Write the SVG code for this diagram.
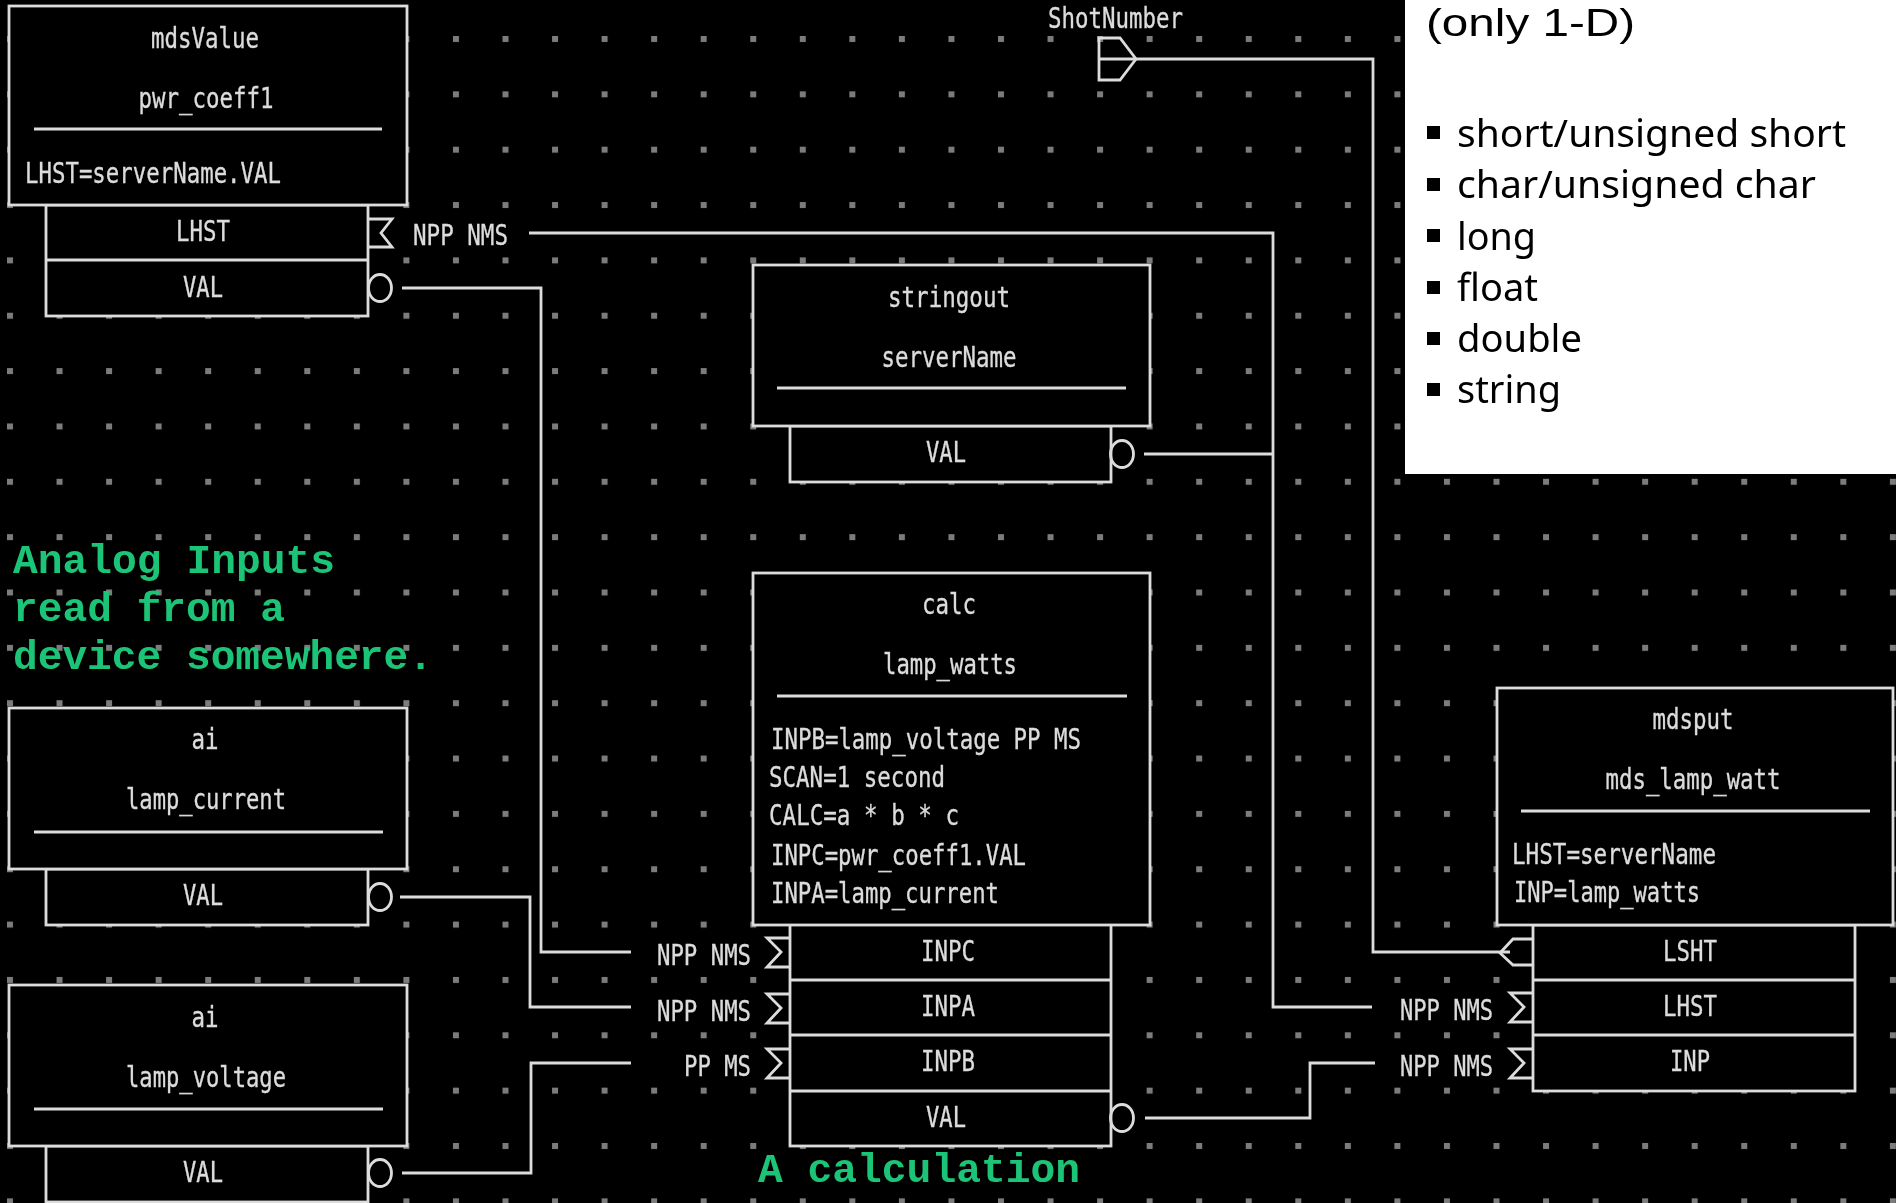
<svg xmlns="http://www.w3.org/2000/svg" width="1896" height="1203" viewBox="0 0 1896 1203">
<style>
.box{fill:#000;stroke:#dcdcdc;stroke-width:2.8}
.ln{fill:none;stroke:#dcdcdc;stroke-width:2.8}
.w{fill:none;stroke:#dcdcdc;stroke-width:2.8}
.m{font-family:"DejaVu Sans Mono","Liberation Mono",monospace;font-size:28px;fill:#dcdcdc;stroke:#dcdcdc;stroke-width:.35}
.c{text-anchor:middle}
.g{font-family:"Liberation Mono",monospace;font-size:40px;font-weight:bold;fill:#1fc477}
.p{font-family:"Noto Sans","Open Sans",sans-serif;font-size:38px;fill:#000}
.h{font-family:"Liberation Sans",sans-serif;font-size:38px;fill:#000}
</style>
<defs>
<pattern id="grid" width="49.55" height="55.35" patternUnits="userSpaceOnUse" patternTransform="translate(7 36)">
<rect x="0" y="0" width="6" height="6" fill="#7c7c7c"/>
</pattern>
<filter id="soft" x="0" y="0" width="100%" height="100%"><feGaussianBlur stdDeviation="0.7"/></filter>
<path id="sig" class="ln" d="M23,-14 L0,-14 L14,0 L0,15 L23,15"/>
<ellipse id="ring" class="ln" cx="12" cy="0" rx="11.5" ry="13.5"/>
</defs>
<rect width="1896" height="1203" fill="#000"/>
<g filter="url(#soft)">
<g id="grid-dots"><rect width="1896" height="1203" fill="url(#grid)"/></g>

<g id="connectors">
<path class="w" d="M402,288 H541 V952 H631"/>
<path class="w" d="M529,233 H1273 V1007 H1372"/>
<path class="w" d="M1144,454 H1273"/>
<path class="w" d="M1098,59 H1373 V952 H1510"/>
<path class="w" d="M400,897 H530 V1007 H631"/>
<path class="w" d="M402,1173 H531 V1063 H631"/>
<path class="w" d="M1145,1118 H1310 V1063 H1375"/>
</g>

<g id="mdsValue">
<rect class="box" x="46" y="205" width="322" height="111"/>
<path class="ln" d="M46,260 H368"/>
<rect class="box" x="9" y="6" width="398" height="199"/>
<path class="ln" d="M34,129 H382"/>
<text class="m c" x="205" y="48" textLength="108" lengthAdjust="spacingAndGlyphs">mdsValue</text>
<text class="m c" x="206" y="108" textLength="135" lengthAdjust="spacingAndGlyphs">pwr_coeff1</text>
<text class="m" x="25" y="183" textLength="256" lengthAdjust="spacingAndGlyphs">LHST=serverName.VAL</text>
<text class="m c" x="203" y="241" textLength="54" lengthAdjust="spacingAndGlyphs">LHST</text>
<text class="m c" x="203" y="297" textLength="40" lengthAdjust="spacingAndGlyphs">VAL</text>
<path class="ln" d="M368,219 H392 L381,233 L392,247 H368"/>
<text class="m" x="413" y="245" textLength="95" lengthAdjust="spacingAndGlyphs">NPP NMS</text>
<use href="#ring" x="368" y="288"/>
</g>

<g id="stringout">
<rect class="box" x="790" y="426" width="321" height="56"/>
<rect class="box" x="753" y="265" width="397" height="161"/>
<path class="ln" d="M777,388 H1126"/>
<text class="m c" x="949" y="307" textLength="122" lengthAdjust="spacingAndGlyphs">stringout</text>
<text class="m c" x="949" y="367" textLength="135" lengthAdjust="spacingAndGlyphs">serverName</text>
<text class="m c" x="946" y="462" textLength="40" lengthAdjust="spacingAndGlyphs">VAL</text>
<use href="#ring" x="1110" y="454"/>
</g>

<g id="ShotNumber">
<text class="m" x="1048" y="28" textLength="135" lengthAdjust="spacingAndGlyphs">ShotNumber</text>
<path class="ln" d="M1099,38 H1120 L1136,59 L1120,80 H1099 Z"/>
</g>

<g id="note-panel">
<rect x="1405" y="0" width="491" height="474" fill="#fff"/>
<text class="h" x="1426" y="36" textLength="209" lengthAdjust="spacingAndGlyphs">(only 1-D)</text>
<g fill="#000">
<rect x="1427" y="126" width="13" height="13"/>
<rect x="1427" y="178" width="13" height="13"/>
<rect x="1427" y="229" width="13" height="13"/>
<rect x="1427" y="281" width="13" height="13"/>
<rect x="1427" y="332" width="13" height="13"/>
<rect x="1427" y="383" width="13" height="13"/>
</g>
<text class="p" x="1457" y="147" textLength="389" lengthAdjust="spacingAndGlyphs">short/unsigned short</text>
<text class="p" x="1457" y="198" textLength="359" lengthAdjust="spacingAndGlyphs">char/unsigned char</text>
<text class="p" x="1457" y="250" textLength="79" lengthAdjust="spacingAndGlyphs">long</text>
<text class="p" x="1457" y="301" textLength="81" lengthAdjust="spacingAndGlyphs">float</text>
<text class="p" x="1457" y="352" textLength="125" lengthAdjust="spacingAndGlyphs">double</text>
<text class="p" x="1457" y="403" textLength="104" lengthAdjust="spacingAndGlyphs">string</text>
</g>

<g id="note-analog">
<text class="g" x="13" y="573" textLength="322" lengthAdjust="spacingAndGlyphs">Analog Inputs</text>
<text class="g" x="13" y="621" textLength="272" lengthAdjust="spacingAndGlyphs">read from a</text>
<text class="g" x="13" y="669" textLength="420" lengthAdjust="spacingAndGlyphs">device somewhere.</text>
</g>

<g id="lamp_current">
<rect class="box" x="46" y="869" width="322" height="56"/>
<rect class="box" x="9" y="708" width="398" height="161"/>
<path class="ln" d="M34,832 H383"/>
<text class="m c" x="205" y="749" textLength="27" lengthAdjust="spacingAndGlyphs">ai</text>
<text class="m c" x="206" y="809" textLength="160" lengthAdjust="spacingAndGlyphs">lamp_current</text>
<text class="m c" x="203" y="905" textLength="40" lengthAdjust="spacingAndGlyphs">VAL</text>
<use href="#ring" x="368" y="897"/>
</g>

<g id="lamp_voltage">
<rect class="box" x="46" y="1146" width="322" height="56"/>
<rect class="box" x="9" y="985" width="398" height="161"/>
<path class="ln" d="M34,1109 H383"/>
<text class="m c" x="205" y="1027" textLength="27" lengthAdjust="spacingAndGlyphs">ai</text>
<text class="m c" x="206" y="1087" textLength="160" lengthAdjust="spacingAndGlyphs">lamp_voltage</text>
<text class="m c" x="203" y="1182" textLength="40" lengthAdjust="spacingAndGlyphs">VAL</text>
<use href="#ring" x="368" y="1173"/>
</g>

<g id="lamp_watts">
<rect class="box" x="790" y="924" width="321" height="222"/>
<path class="ln" d="M790,980 H1111 M790,1035 H1111 M790,1091 H1111"/>
<rect class="box" x="753" y="573" width="397" height="352"/>
<path class="ln" d="M777,696 H1127"/>
<text class="m c" x="949" y="614" textLength="54" lengthAdjust="spacingAndGlyphs">calc</text>
<text class="m c" x="950" y="674" textLength="134" lengthAdjust="spacingAndGlyphs">lamp_watts</text>
<text class="m" x="771" y="749" textLength="310" lengthAdjust="spacingAndGlyphs">INPB=lamp_voltage PP MS</text>
<text class="m" x="769" y="787" textLength="176" lengthAdjust="spacingAndGlyphs">SCAN=1 second</text>
<text class="m" x="769" y="825" textLength="190" lengthAdjust="spacingAndGlyphs">CALC=a * b * c</text>
<text class="m" x="771" y="865" textLength="255" lengthAdjust="spacingAndGlyphs">INPC=pwr_coeff1.VAL</text>
<text class="m" x="771" y="903" textLength="228" lengthAdjust="spacingAndGlyphs">INPA=lamp_current</text>
<text class="m c" x="948" y="961" textLength="54" lengthAdjust="spacingAndGlyphs">INPC</text>
<text class="m c" x="948" y="1016" textLength="54" lengthAdjust="spacingAndGlyphs">INPA</text>
<text class="m c" x="948" y="1071" textLength="54" lengthAdjust="spacingAndGlyphs">INPB</text>
<text class="m c" x="946" y="1127" textLength="40" lengthAdjust="spacingAndGlyphs">VAL</text>
<text class="m" x="657" y="965" textLength="94" lengthAdjust="spacingAndGlyphs">NPP NMS</text>
<text class="m" x="657" y="1021" textLength="94" lengthAdjust="spacingAndGlyphs">NPP NMS</text>
<text class="m" x="684" y="1076" textLength="67" lengthAdjust="spacingAndGlyphs">PP MS</text>
<use href="#sig" x="767" y="952"/>
<use href="#sig" x="767" y="1008"/>
<use href="#sig" x="767" y="1063"/>
<use href="#ring" x="1110" y="1118"/>
</g>

<g id="note-calc">
<text class="g" x="758" y="1182" textLength="322" lengthAdjust="spacingAndGlyphs">A calculation</text>
</g>

<g id="mds_lamp_watt">
<rect class="box" x="1533" y="925" width="322" height="166"/>
<path class="ln" d="M1533,980 H1855 M1533,1035 H1855"/>
<rect class="box" x="1497" y="688" width="396" height="237"/>
<path class="ln" d="M1521,811 H1870"/>
<text class="m c" x="1693" y="729" textLength="81" lengthAdjust="spacingAndGlyphs">mdsput</text>
<text class="m c" x="1693" y="789" textLength="175" lengthAdjust="spacingAndGlyphs">mds_lamp_watt</text>
<text class="m" x="1512" y="864" textLength="204" lengthAdjust="spacingAndGlyphs">LHST=serverName</text>
<text class="m" x="1514" y="902" textLength="186" lengthAdjust="spacingAndGlyphs">INP=lamp_watts</text>
<text class="m c" x="1690" y="961" textLength="54" lengthAdjust="spacingAndGlyphs">LSHT</text>
<text class="m c" x="1690" y="1016" textLength="54" lengthAdjust="spacingAndGlyphs">LHST</text>
<text class="m c" x="1690" y="1071" textLength="40" lengthAdjust="spacingAndGlyphs">INP</text>
<path class="ln" d="M1533,939 H1513 L1500,953 L1513,965 H1533"/>
<text class="m" x="1400" y="1020" textLength="93" lengthAdjust="spacingAndGlyphs">NPP NMS</text>
<text class="m" x="1400" y="1076" textLength="93" lengthAdjust="spacingAndGlyphs">NPP NMS</text>
<use href="#sig" x="1510" y="1007"/>
<use href="#sig" x="1510" y="1063"/>
</g>
</g>
</svg>
